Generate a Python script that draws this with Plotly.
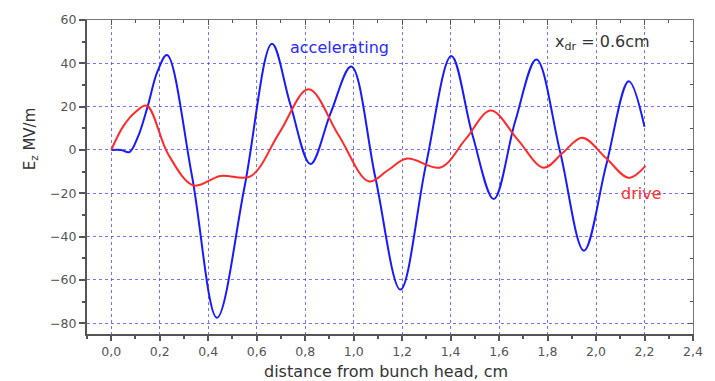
import plotly.graph_objects as go

# accelerating field (blue)
acc_x = [0.0, 0.04, 0.075, 0.11, 0.15, 0.19, 0.23, 0.333, 0.436, 0.55, 0.663, 0.739, 0.822,
         0.905, 0.99, 1.09, 1.193, 1.298, 1.403, 1.49, 1.578, 1.666, 1.754, 1.852, 1.95,
         2.042, 2.135, 2.2]
acc_y = [0.0, 0.0, -1.0, 6.0, 20.0, 36.0, 43.8, -12.0, -77.5, -17.0, 49.0, 21.0, -6.5,
         17.0, 38.5, -13.0, -64.5, -7.0, 43.4, 7.0, -22.7, 13.0, 41.8, -1.0, -46.5,
         -7.0, 31.7, 10.7]

# drive field (red)
drv_x = [0.0, 0.05, 0.1, 0.147, 0.235, 0.34, 0.45, 0.574, 0.694, 0.814, 0.938, 1.062,
         1.14, 1.22, 1.358, 1.462, 1.566, 1.675, 1.784, 1.863, 1.943, 2.04, 2.135, 2.204]
drv_y = [0.0, 11.0, 17.5, 20.4, -2.0, -16.4, -12.0, -12.2, 8.0, 28.0, 6.8, -14.5,
         -9.5, -4.0, -8.1, 5.0, 18.2, 5.0, -8.2, -1.3, 5.6, -3.6, -12.9, -7.4]

x_range = [-0.1, 2.4]
y_range = [-85, 60]

FONT = "DejaVu Sans, Arial, sans-serif"
GRID = "rgba(70,70,255,0.75)"

fig = go.Figure()
fig.add_trace(go.Scatter(x=acc_x, y=acc_y, mode="lines", name="accelerating",
                         line=dict(color="#1a1aff", width=2, shape="spline", smoothing=1.0)))
fig.add_trace(go.Scatter(x=drv_x, y=drv_y, mode="lines", name="drive",
                         line=dict(color="#ff2a2a", width=2, shape="spline", smoothing=1.0)))
# invisible trace for mirrored axes
fig.add_trace(go.Scatter(x=[x_range[0]], y=[y_range[0]], xaxis="x2", yaxis="y2",
                         mode="markers", marker=dict(opacity=0), showlegend=False, hoverinfo="skip"))

fig.update_layout(
    width=715, height=381,
    margin=dict(l=87, r=22, t=14, b=47),
    paper_bgcolor="white", plot_bgcolor="white",
    showlegend=False,
    separators=",.",
    font=dict(family=FONT, color="#555", size=12),
    xaxis=dict(range=x_range, tickmode="linear", tick0=0, dtick=0.2, tickformat=".1f",
               showgrid=True, gridcolor=GRID, griddash="dot", gridwidth=1,
               showline=True, linecolor="#555", linewidth=2,
               ticks="outside", ticklen=5, tickwidth=1.5, tickcolor="#555",
               minor=dict(tickmode="linear", tick0=0, dtick=0.1, ticks="outside", ticklen=3,
                          tickcolor="#555", showgrid=False),
               zeroline=False, tickfont=dict(size=12.5, color="#555", family=FONT)),
    yaxis=dict(range=y_range, tickmode="linear", tick0=0, dtick=20,
               showgrid=True, gridcolor=GRID, griddash="dot", gridwidth=1,
               showline=True, linecolor="#555", linewidth=2,
               ticks="outside", ticklen=6, tickwidth=1.5, tickcolor="#555",
               minor=dict(tickmode="linear", tick0=0, dtick=10, ticks="outside", ticklen=3,
                          tickcolor="#555", showgrid=False),
               zeroline=False, tickfont=dict(size=12.5, color="#555", family=FONT)),
    xaxis2=dict(range=x_range, overlaying="x", side="top", tickmode="linear", tick0=0, dtick=0.2,
                showticklabels=False, showgrid=False, zeroline=False,
                showline=True, linecolor="#777", linewidth=1,
                ticks="inside", ticklen=5, tickcolor="#555",
                minor=dict(tickmode="linear", tick0=0, dtick=0.1, ticks="inside", ticklen=3,
                           tickcolor="#555", showgrid=False)),
    yaxis2=dict(range=y_range, overlaying="y", side="right", tickmode="linear", tick0=0, dtick=20,
                showticklabels=False, showgrid=False, zeroline=False,
                showline=True, linecolor="#777", linewidth=1,
                ticks="inside", ticklen=5, tickcolor="#555",
                minor=dict(tickmode="linear", tick0=0, dtick=10, ticks="inside", ticklen=3,
                           tickcolor="#555", showgrid=False)),
    annotations=[
        dict(text="E<sub>z</sub> MV/m", xref="paper", yref="paper", x=-0.094, y=0.62,
             xanchor="center", yanchor="middle",
             textangle=-90, showarrow=False, font=dict(size=15, color="#333", family=FONT)),
        dict(text="distance from bunch head, cm", xref="paper", yref="paper", x=0.493, y=-0.119,
             xanchor="center", yanchor="middle",
             showarrow=False, font=dict(size=16, color="#333", family=FONT)),
        dict(text="accelerating", x=0.941, y=47.4, xref="x", yref="y", showarrow=False,
             xanchor="center", yanchor="middle",
             font=dict(size=16, color="#2a2aff", family=FONT)),
        dict(text="x<sub>dr</sub> = 0.6cm", x=2.028, y=49.6, xref="x", yref="y", showarrow=False,
             xanchor="center", yanchor="middle",
             font=dict(size=16, color="#333", family=FONT)),
        dict(text="drive", x=2.187, y=-20.3, xref="x", yref="y", showarrow=False,
             xanchor="center", yanchor="middle",
             font=dict(size=16, color="#ff3030", family=FONT)),
    ],
)

fig.write_html("out.html")
